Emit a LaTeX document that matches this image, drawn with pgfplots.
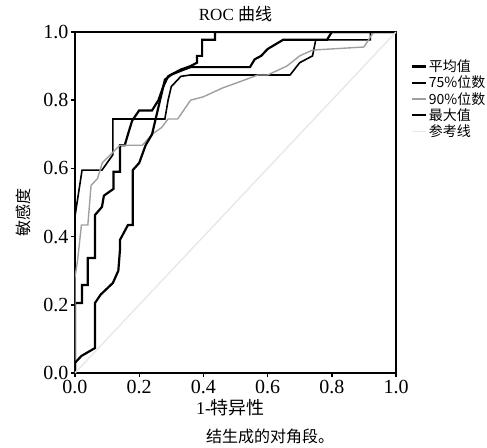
\documentclass[border=0pt]{standalone}
\usepackage{fontspec}
\setmainfont{Liberation Serif}
\newfontfamily\cjk{Noto Sans CJK SC}
\usepackage{pgfplots}
\pgfplotsset{compat=1.18}

\begin{document}
\begin{tikzpicture}
\useasboundingbox (-75pt,-74pt) rectangle (412pt,373pt);
\begin{axis}[
  width=321pt, height=341pt, scale only axis,
  xmin=0, xmax=1, ymin=0, ymax=1,
  xtick={0,0.2,0.4,0.6,0.8,1}, ytick={0,0.2,0.4,0.6,0.8,1},
  /pgf/number format/assume math mode=true,
  /pgf/number format/fixed, /pgf/number format/precision=1,
  /pgf/number format/fixed zerofill,
  ticklabel style={font=\fontsize{20}{20}\selectfont},
  yticklabel style={xshift=1pt},
  axis line style={line width=1.8pt},
  tick align=outside, tick pos=left,
  major tick length=4pt,
  tick style={line width=1.4pt, black},
  title={ROC {\cjk 曲线}},
  title style={font=\fontsize{17}{17}\selectfont, yshift=1pt},
  xlabel={1-{\cjk 特异性}},
  xlabel style={font=\fontsize{18}{18}\selectfont, yshift=2pt, xshift=-5pt},
  ylabel={{\cjk 敏感度}},
  ylabel style={font=\fontsize{16}{16}\selectfont, yshift=6pt, xshift=-10pt},
  legend style={at={(rel axis cs:1.045,0.925)}, anchor=north west, draw=none, fill=none,
    font=\fontsize{14}{14}\selectfont\cjk, row sep=-1pt, inner sep=0pt},
  legend cell align=left,
  legend image code/.code={\draw[#1] (0pt,0pt) -- (14pt,0pt);},
]
% 平均值
\addplot[black, line width=2.2pt] coordinates {
(0,0)(0,0.205)(0.022,0.205)(0.022,0.258)(0.04,0.258)(0.04,0.337)(0.062,0.337)
(0.062,0.463)(0.084,0.487)(0.09,0.52)(0.12,0.54)(0.12,0.59)(0.14,0.59)(0.14,0.668)
(0.155,0.668)(0.165,0.70)(0.178,0.74)(0.2,0.77)(0.24,0.77)(0.26,0.80)(0.275,0.84)
(0.29,0.87)(0.33,0.89)(0.36,0.90)(0.38,0.91)(0.38,0.93)(0.396,0.93)(0.396,0.977)
(0.436,0.977)(0.436,1.0)(1,1)};
% 75%位数
\addplot[black, line width=1.6pt] coordinates {
(0,0)(0,0.46)(0.022,0.595)(0.084,0.595)(0.118,0.64)(0.118,0.745)(0.28,0.745)
(0.29,0.80)(0.30,0.84)(0.33,0.87)(0.36,0.874)(0.67,0.874)(0.70,0.91)(0.74,0.93)
(0.75,0.977)(0.92,0.977)(0.92,1)(1,1)};
% 90%位数
\addplot[gray!75, line width=1.4pt] coordinates {
(0,0)(0,0.28)(0.008,0.33)(0.02,0.434)(0.04,0.434)(0.05,0.55)(0.07,0.57)(0.085,0.616)
(0.11,0.64)(0.14,0.668)(0.21,0.668)(0.24,0.70)(0.27,0.72)(0.29,0.745)(0.32,0.745)
(0.36,0.80)(0.40,0.81)(0.46,0.836)(0.51,0.853)(0.57,0.874)(0.60,0.874)(0.66,0.90)
(0.70,0.93)(0.74,0.947)(0.90,0.956)(0.93,1)(1,1)};
% 最大值
\addplot[black, line width=2.2pt] coordinates {
(0,0)(0,0.03)(0.02,0.05)(0.062,0.073)(0.062,0.205)(0.08,0.23)(0.118,0.264)
(0.135,0.30)(0.14,0.36)(0.14,0.39)(0.165,0.434)(0.18,0.434)(0.18,0.595)(0.2,0.616)
(0.22,0.668)(0.24,0.70)(0.25,0.74)(0.26,0.78)(0.27,0.82)(0.28,0.86)(0.30,0.875)
(0.34,0.89)(0.36,0.897)(0.545,0.897)(0.56,0.92)(0.58,0.93)(0.60,0.95)(0.648,0.977)
(0.785,0.977)(0.80,1)(1,1)};
% 参考线
\addplot[gray!18, line width=1.4pt] coordinates {(0,0)(1,1)};
\legend{平均值, 75\%位数, 90\%位数, 最大值, 参考线}
\node[anchor=south west, inner sep=0pt, font=\fontsize{18}{18}\selectfont\cjk]
  at (rel axis cs:1.05,0.935) {曲线源};
\end{axis}
\node[font=\fontsize{16}{16}\selectfont\cjk, inner sep=0pt] at (195pt,-63pt) {结生成的对角段。};
\end{tikzpicture}
\end{document}
